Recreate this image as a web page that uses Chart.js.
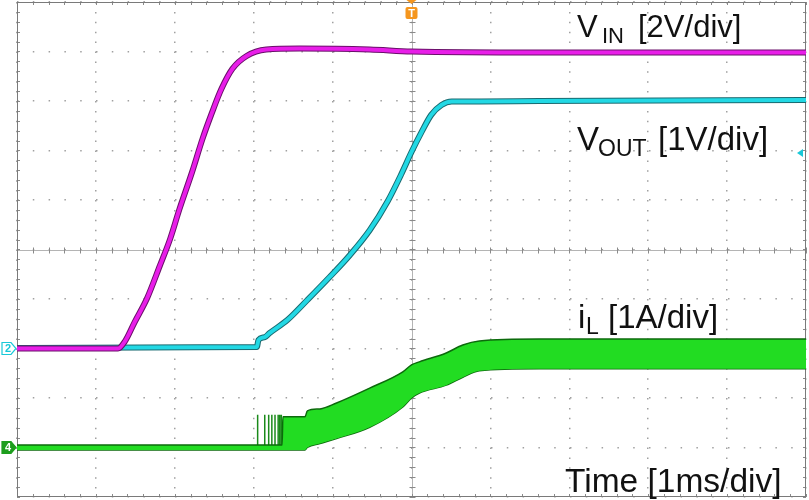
<!DOCTYPE html>
<html>
<head>
<meta charset="utf-8">
<script src="https://cdn.jsdelivr.net/npm/chart.js@4"></script>
<style>
  html, body { margin: 0; padding: 0; background: #fff; }
</style>
</head>
<body>
<canvas id="scope" width="809" height="500"></canvas>
<script>
// time in ms (1 ms/div, trigger at 0), levels in divisions from screen centre
const vinTime  = [-5.00, -3.72, -3.63, -3.51, -3.35, -3.19, -3.06, -2.94, -2.78, -2.65, -2.53, -2.41, -2.27, -2.09, -1.84, -1.42, -0.53, 0.00, 1.62, 5.00];
const vinLevel = [-2.00, -2.00, -1.85, -1.47, -0.98, -0.33, 0.21, 0.82, 1.57, 2.23, 2.76, 3.24, 3.65, 3.91, 4.04, 4.06, 4.04, 4.00, 3.98, 3.98];

const voutTime  = [-5.00, -1.96, -1.94, -1.86, -1.80, -1.57, -1.32, -1.04, -0.78, -0.53, -0.30, -0.13, 0.00, 0.13, 0.25, 0.38, 0.51, 0.86, 1.62, 5.00];
const voutLevel = [-1.99, -1.97, -1.83, -1.77, -1.69, -1.42, -1.02, -0.56, -0.11, 0.39, 0.98, 1.52, 1.97, 2.38, 2.72, 2.92, 2.99, 2.99, 3.00, 3.02];

// inductor current is drawn as a ripple band (top / bottom envelope)
const ilTime   = [-5.00, -1.96, -1.64, -1.63, -1.35, -1.32, -1.16, -0.95, -0.53, -0.11, 0.00, 0.10, 0.44, 0.65, 0.86, 1.62, 5.00];
const ilTop    = [-3.95, -3.95, -3.95, -3.38, -3.38, -3.26, -3.22, -3.10, -2.80, -2.47, -2.33, -2.27, -2.09, -1.93, -1.85, -1.81, -1.81];
const ilBottom = [-4.05, -4.05, -4.05, -4.05, -4.05, -4.00, -3.92, -3.82, -3.59, -3.18, -3.00, -2.90, -2.74, -2.58, -2.45, -2.41, -2.41];
// first switching pulses after start-up
const ilSpikeTime = [-1.95, -1.86, -1.81, -1.77, -1.73, -1.69, -1.67, -1.65];
const ilSpikeTop  = -3.34;
const ilBase      = -4.0;

// channel ground markers and trigger level
const markerLevels = [-2.0, -4.0];
const triggerLevel = 1.95;

function pts(xs, ys) {
    return xs.map((x, i) => ({x: x, y: ys[i]}));
}

var spikeData = [];
ilSpikeTime.forEach(t => {
    spikeData.push({x: t, y: ilBase}, {x: t, y: ilSpikeTop}, {x: t, y: ilBase});
});

const FONT = '"Liberation Sans", Arial, sans-serif';

function label(ctx, main, sub, rest, x, y, xs, xr, size) {
    ctx.font = size + 'px ' + FONT;
    ctx.fillText(main, x, y);
    if (sub) {
        ctx.font = Math.round(size * 0.7) + 'px ' + FONT;
        ctx.fillText(sub, xs, y + 6);
    }
    ctx.font = size + 'px ' + FONT;
    ctx.fillText(rest, xr, y);
}

const scopeDecor = {
    id: 'scopeDecor',
    beforeDatasetsDraw(chart) {
        const ctx = chart.ctx;
        const a = chart.chartArea;
        const xs = chart.scales.x, ys = chart.scales.y;
        const cx = Math.round(xs.getPixelForValue(0)) + 0.5;
        const cy = Math.round(ys.getPixelForValue(0)) + 0.5;
        ctx.save();
        // centre cross
        ctx.strokeStyle = '#b4b4b4';
        ctx.lineWidth = 1;
        ctx.beginPath();
        ctx.moveTo(a.left, cy); ctx.lineTo(a.right, cy);
        ctx.moveTo(cx, a.top); ctx.lineTo(cx, a.bottom);
        ctx.stroke();
        // minor ticks on the cross and on the frame
        ctx.strokeStyle = '#8a8a8a';
        ctx.beginPath();
        for (let t = -5; t <= 5.001; t += 0.2) {
            const x = Math.round(xs.getPixelForValue(t)) + 0.5;
            ctx.moveTo(x, cy - 3); ctx.lineTo(x, cy + 3);
            ctx.moveTo(x, a.top); ctx.lineTo(x, a.top + 3);
            ctx.moveTo(x, a.bottom); ctx.lineTo(x, a.bottom - 3);
        }
        for (let d = -5; d <= 5.001; d += 0.2) {
            const y = Math.round(ys.getPixelForValue(d)) + 0.5;
            ctx.moveTo(cx - 3, y); ctx.lineTo(cx + 3, y);
            ctx.moveTo(a.left, y); ctx.lineTo(a.left + 3, y);
            ctx.moveTo(a.right, y); ctx.lineTo(a.right - 3, y);
        }
        ctx.stroke();
        // frame
        ctx.strokeStyle = '#7a7a7a';
        ctx.strokeRect(a.left + 0.5, a.top + 0.5, a.right - a.left - 1, a.bottom - a.top - 1);
        ctx.restore();
    },
    afterDatasetsDraw(chart) {
        const ctx = chart.ctx;
        const a = chart.chartArea;
        const xs = chart.scales.x, ys = chart.scales.y;
        ctx.save();

        // channel markers on the left edge
        const marks = [
            {txt: '2', fill: '#ffffff', stroke: '#18c8d8', color: '#18c8d8'},
            {txt: '4', fill: '#1e9e1e', stroke: '#1e9e1e', color: '#ffffff'}
        ];
        markerLevels.forEach((lv, i) => {
            const y = ys.getPixelForValue(lv);
            const m = marks[i];
            ctx.beginPath();
            ctx.moveTo(2, y - 6); ctx.lineTo(11, y - 6); ctx.lineTo(16, y);
            ctx.lineTo(11, y + 6); ctx.lineTo(2, y + 6); ctx.closePath();
            ctx.fillStyle = m.fill; ctx.fill();
            ctx.strokeStyle = m.stroke; ctx.lineWidth = 1.2; ctx.stroke();
            ctx.fillStyle = m.color;
            ctx.font = 'bold 11px ' + FONT;
            ctx.textAlign = 'center'; ctx.textBaseline = 'middle';
            ctx.fillText(m.txt, 8, y + 0.5);
        });

        // trigger position marker
        const tx = xs.getPixelForValue(0);
        ctx.fillStyle = '#f5961e';
        ctx.beginPath();
        ctx.moveTo(tx - 5, 0); ctx.lineTo(tx + 5, 0); ctx.lineTo(tx, 4); ctx.closePath();
        ctx.fill();
        ctx.beginPath();
        ctx.roundRect(tx - 6, 7, 12, 12, 2);
        ctx.fill();
        ctx.fillStyle = '#ffffff';
        ctx.font = 'bold 11px ' + FONT;
        ctx.fillText('T', tx, 13.5);

        // trigger level arrow on the right edge
        const ty = ys.getPixelForValue(triggerLevel);
        ctx.fillStyle = '#18c8d8';
        ctx.beginPath();
        ctx.moveTo(a.right - 9, ty); ctx.lineTo(a.right - 3, ty - 4); ctx.lineTo(a.right - 3, ty + 4);
        ctx.closePath(); ctx.fill();

        // trace labels
        ctx.fillStyle = '#111111';
        ctx.textAlign = 'left'; ctx.textBaseline = 'alphabetic';
        label(ctx, 'V', 'IN', '[2V/div]', 577, 37, 602, 638, 31);
        label(ctx, 'V', 'OUT', '[1V/div]', 577, 150, 598, 658, 33);
        label(ctx, 'i', 'L', '[1A/div]', 578, 328, 586, 608, 33);
        ctx.font = '33.5px ' + FONT;
        ctx.fillText('Time [1ms/div]', 565, 492);
        ctx.restore();
    }
};

new Chart(document.getElementById('scope'), {
    type: 'line',
    data: {
        datasets: [
            {label: 'VIN', data: pts(vinTime, vinLevel), borderColor: '#e81ee8', borderWidth: 4, order: 0, cubicInterpolationMode: 'monotone'},
            {label: 'VIN edge', data: pts(vinTime, vinLevel), borderColor: '#6a106a', borderWidth: 6, order: 1, cubicInterpolationMode: 'monotone'},
            {label: 'VOUT', data: pts(voutTime, voutLevel), borderColor: '#22d8e4', borderWidth: 4, order: 2, cubicInterpolationMode: 'monotone'},
            {label: 'VOUT edge', data: pts(voutTime, voutLevel), borderColor: '#1a6a70', borderWidth: 6, order: 3, cubicInterpolationMode: 'monotone'},
            {label: 'iL top', data: pts(ilTime, ilTop), borderColor: '#0c6a0c', borderWidth: 1.5, backgroundColor: '#22dc22', fill: '+1', order: 4, cubicInterpolationMode: 'monotone'},
            {label: 'iL bottom', data: pts(ilTime, ilBottom), borderColor: '#0c6a0c', borderWidth: 1.5, order: 5, cubicInterpolationMode: 'monotone'},
            {label: 'iL pulses', data: spikeData, borderColor: '#1a8a1a', borderWidth: 1.5, order: 6}
        ]
    },
    options: {
        responsive: false,
        animation: false,
        layout: {padding: {left: 17, top: 2, right: 3, bottom: 3}},
        elements: {point: {radius: 0}, line: {tension: 0, fill: false}},
        plugins: {legend: {display: false}, tooltip: {enabled: false}},
        scales: {
            x: {
                type: 'linear', min: -5, max: 5,
                ticks: {display: false, stepSize: 1},
                grid: {color: '#a0a0a0', lineWidth: 1.5, drawTicks: false},
                border: {display: false, dash: [1.5, 8.4]}
            },
            y: {
                type: 'linear', min: -5, max: 5,
                ticks: {display: false, stepSize: 1},
                grid: {color: '#a0a0a0', lineWidth: 1.5, drawTicks: false},
                border: {display: false, dash: [1.5, 14.3]}
            }
        }
    },
    plugins: [scopeDecor]
});
</script>
</body>
</html>
